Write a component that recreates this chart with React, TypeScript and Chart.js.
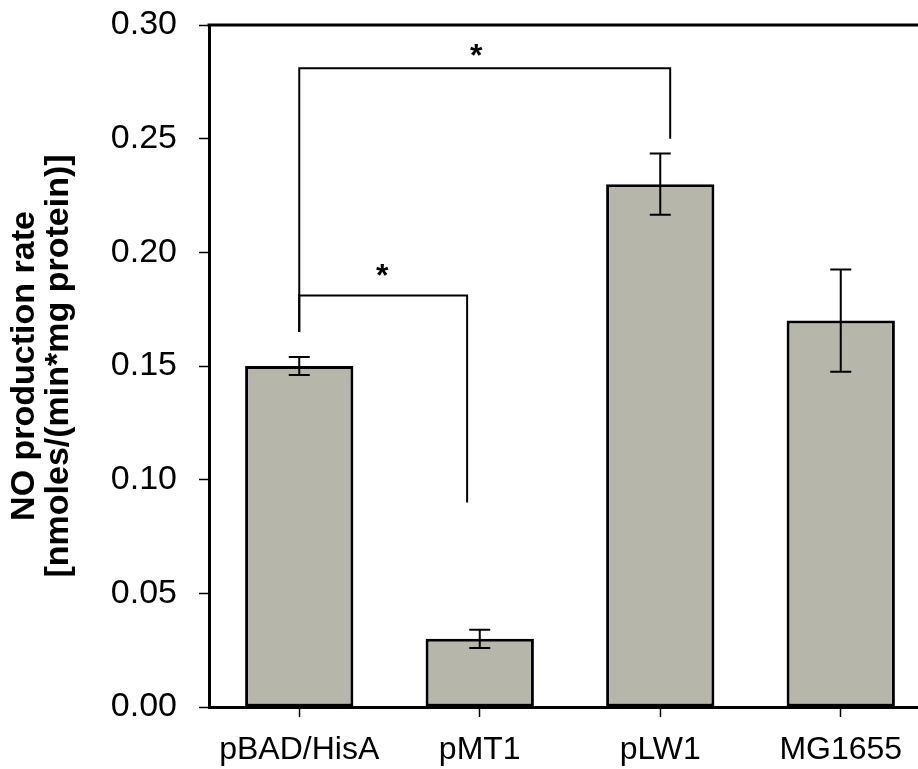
import { useEffect, useRef } from "react";
import { Chart, registerables } from "chart.js";

Chart.register(...registerables);

const FONT = "'Liberation Sans', Arial, Helvetica, sans-serif";

const strains = ["pBAD/HisA", "pMT1", "pLW1", "MG1655"];
const rates = [0.15, 0.03, 0.23, 0.17];
const rateErrors = [0.004, 0.004, 0.0135, 0.0225];
const yTickValues = [0, 0.05, 0.1, 0.15, 0.2, 0.25, 0.3];
const yTitleLines = ["NO production rate", "[nmoles/(min*mg protein)]"];

// significance brackets: ends in category-index units, heights in rate units
const bracketStart = [0, 0];
const bracketEnd = [2.055, 0.93];
const bracketLevel = [0.281, 0.181];
const bracketStartDrop = [0.165, 0.165];
const bracketEndDrop = [0.25, 0.09];
const starPos = [0.98, 0.46];
const starLevel = [0.286, 0.189];
const starText = ["*", "*"];

const errorBarPlugin = {
  id: "errorBars",
  afterDatasetsDraw(chart: any) {
    const { ctx, scales } = chart;
    const xs = scales.x;
    const ys = scales.y;
    ctx.save();
    ctx.strokeStyle = "#000";
    ctx.lineWidth = 2;
    rates.forEach((v, i) => {
      const x = xs.getPixelForValue(i);
      const yHi = ys.getPixelForValue(v + rateErrors[i]);
      const yLo = ys.getPixelForValue(v - rateErrors[i]);
      const half = 10.5;
      ctx.beginPath();
      ctx.moveTo(x, yHi);
      ctx.lineTo(x, yLo);
      ctx.moveTo(x - half, yHi);
      ctx.lineTo(x + half, yHi);
      ctx.moveTo(x - half, yLo);
      ctx.lineTo(x + half, yLo);
      ctx.stroke();
    });
    ctx.restore();
  },
};

const bracketPlugin = {
  id: "significance",
  afterDatasetsDraw(chart: any) {
    const { ctx, scales } = chart;
    const xs = scales.x;
    const ys = scales.y;
    ctx.save();
    ctx.strokeStyle = "#000";
    ctx.lineWidth = 2;
    bracketStart.forEach((s, i) => {
      const x0 = xs.getPixelForValue(s);
      const x1 = xs.getPixelForValue(bracketEnd[i]);
      const yl = ys.getPixelForValue(bracketLevel[i]);
      ctx.beginPath();
      ctx.moveTo(x0, ys.getPixelForValue(bracketStartDrop[i]));
      ctx.lineTo(x0, yl);
      ctx.lineTo(x1, yl);
      ctx.lineTo(x1, ys.getPixelForValue(bracketEndDrop[i]));
      ctx.stroke();
    });
    ctx.fillStyle = "#000";
    ctx.font = `bold 32px ${FONT}`;
    ctx.textAlign = "center";
    ctx.textBaseline = "middle";
    starText.forEach((t, i) => {
      ctx.fillText(t, xs.getPixelForValue(starPos[i]), ys.getPixelForValue(starLevel[i]));
    });
    ctx.restore();
  },
};

const framePlugin = {
  id: "frame",
  afterDraw(chart: any) {
    const { ctx, chartArea } = chart;
    ctx.save();
    ctx.strokeStyle = "#000";
    ctx.lineWidth = 3;
    ctx.beginPath();
    ctx.moveTo(chartArea.left - 1.5, chartArea.top);
    ctx.lineTo(chartArea.right, chartArea.top);
    ctx.lineTo(chartArea.right, chartArea.bottom);
    ctx.stroke();
    ctx.restore();
  },
};

export default function App() {
  const canvasRef = useRef<HTMLCanvasElement | null>(null);

  useEffect(() => {
    if (!canvasRef.current) return;
    const chart = new Chart(canvasRef.current, {
      type: "bar",
      data: {
        labels: strains,
        datasets: [
          {
            data: rates,
            backgroundColor: "#b6b6aa",
            borderColor: "#000",
            borderWidth: 3,
            borderSkipped: false,
            barPercentage: 0.6,
            categoryPercentage: 1,
          },
        ],
      },
      options: {
        responsive: false,
        animation: false,
        layout: { padding: { top: 25, right: 9, left: 0, bottom: 0 } },
        plugins: { legend: { display: false }, tooltip: { enabled: false } },
        scales: {
          x: {
            offset: true,
            grid: {
              offset: false,
              drawOnChartArea: false,
              drawTicks: true,
              tickLength: 10,
              tickWidth: 1.5,
              tickColor: "#000",
            },
            border: { display: true, color: "#000", width: 3 },
            ticks: {
              color: "#000",
              padding: 14,
              maxRotation: 0,
              font: { family: FONT, size: 32 },
            },
            afterFit(scale: any) {
              scale.height = 62;
              scale.paddingLeft = 0;
              scale.paddingRight = 0;
            },
          },
          y: {
            min: 0,
            max: 0.3,
            afterBuildTicks(scale: any) {
              scale.ticks = yTickValues.map((v) => ({ value: v }));
            },
            grid: {
              drawOnChartArea: false,
              drawTicks: true,
              tickLength: 10,
              tickWidth: 1.5,
              tickColor: "#000",
            },
            border: { display: true, color: "#000", width: 3 },
            ticks: {
              color: "#000",
              padding: 22,
              font: { family: FONT, size: 34 },
              callback: (v: any) => Number(v).toFixed(2),
            },
            title: {
              display: true,
              text: yTitleLines,
              color: "#000",
              font: { family: FONT, size: 34, weight: "bold", lineHeight: 1.0 },
              padding: { top: 8, bottom: 0 },
            },
            afterFit(scale: any) {
              scale.width = 209;
              scale.paddingTop = 0;
              scale.paddingBottom = 0;
            },
          },
        },
      },
      plugins: [errorBarPlugin, bracketPlugin, framePlugin],
    });
    return () => chart.destroy();
  }, []);

  return (
    <div
      style={{
        position: "absolute",
        left: 0,
        top: 0,
        width: 918,
        height: 769,
        overflow: "hidden",
        background: "#fff",
      }}
    >
      <canvas ref={canvasRef} width={940} height={769} style={{ display: "block" }} />
    </div>
  );
}
